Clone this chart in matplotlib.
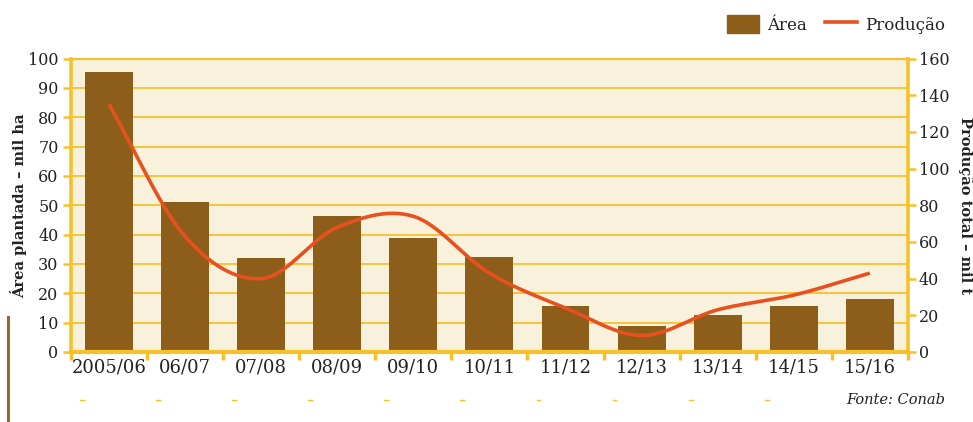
import numpy as np
import matplotlib
matplotlib.use('Agg')
import matplotlib.pyplot as plt
from matplotlib.patches import Rectangle
from matplotlib.lines import Line2D

# data
safras = ['2005/06', '06/07', '07/08', '08/09', '09/10', '10/11',
          '11/12', '12/13', '13/14', '14/15', '15/16']
area = [95.5, 51, 32, 46.5, 39, 32.5, 15.5, 9, 12.5, 15.5, 18]
producao = [135, 63, 40, 68, 74, 43, 24, 9, 23, 31, 43]

BROWN = '#8C5E1A'
YELLOW = '#F6C12B'
BG = '#F8F2DC'
RED = '#E8511F'
TXT = '#222222'

plt.rcParams['font.family'] = ['DejaVu Serif']


def smooth(x, y, n=30):
    # catmull-rom spline through the points (like a "smoothed line")
    x = np.asarray(x, float)
    y = np.asarray(y, float)
    px = np.concatenate([[2 * x[0] - x[1]], x, [2 * x[-1] - x[-2]]])
    py = np.concatenate([[2 * y[0] - y[1]], y, [2 * y[-1] - y[-2]]])
    xs, ys = [], []
    t = np.linspace(0, 1, n)
    for i in range(1, len(px) - 2):
        for p, out in ((px, xs), (py, ys)):
            p0, p1, p2, p3 = p[i - 1], p[i], p[i + 1], p[i + 2]
            out.append(0.5 * ((2 * p1) + (-p0 + p2) * t +
                              (2 * p0 - 5 * p1 + 4 * p2 - p3) * t ** 2 +
                              (-p0 + 3 * p1 - 3 * p2 + p3) * t ** 3))
    return np.concatenate(xs), np.concatenate(ys)


fig = plt.figure(figsize=(9.73, 4.22), dpi=100)
ax = fig.add_axes([0.073, 0.166, 0.860, 0.695])
ax.set_facecolor(BG)
x = np.arange(len(safras))

ax.bar(x, area, width=0.63, color=BROWN, zorder=2)
ax.set_axisbelow(True)
ax.set_xlim(-0.5, len(safras) - 0.5)
ax.set_ylim(0, 100)
ax.set_yticks(np.arange(0, 101, 10))
ax.yaxis.grid(True, color=YELLOW, linewidth=1.3)
ax.set_xticks(x)
ax.set_xticklabels(safras, fontsize=13, color=TXT)
ax.set_xticks(np.arange(-0.5, len(safras), 1), minor=True)
ax.tick_params(axis='x', which='major', length=0, pad=5)
ax.tick_params(axis='x', which='minor', length=6, width=2.5, color=YELLOW)
ax.tick_params(axis='y', length=6, width=1.8, color=YELLOW, labelsize=11.5,
               labelcolor=TXT, pad=3)
ax.spines['top'].set_color(YELLOW)
ax.spines['top'].set_linewidth(1.6)
ax.spines['left'].set_color(YELLOW)
ax.spines['left'].set_linewidth(2.6)
ax.spines['bottom'].set_color(YELLOW)
ax.spines['bottom'].set_linewidth(3)
ax.spines['right'].set_visible(False)
ax.set_ylabel('Área plantada – mil ha', fontsize=10.5, fontweight='bold',
              color=TXT, labelpad=1)

ax2 = ax.twinx()
sx, sy = smooth(x, producao)
ax2.plot(sx, sy, color=RED, linewidth=2.6, zorder=5, solid_capstyle='butt')
ax2.set_ylim(0, 160)
ax2.set_yticks(np.arange(0, 161, 20))
ax2.tick_params(axis='y', length=6, width=1.8, color=YELLOW, labelsize=11.5,
                labelcolor=TXT, pad=2)
for s in ('top', 'left', 'bottom'):
    ax2.spines[s].set_visible(False)
ax2.spines['right'].set_color(YELLOW)
ax2.spines['right'].set_linewidth(2.6)
ax2.set_ylabel('Produção total – mil t', fontsize=10.5, fontweight='bold',
               color=TXT, rotation=270, labelpad=17)

# legend
handles = [Rectangle((0, 0), 1, 1, color=BROWN),
           Line2D([], [], color=RED, linewidth=2.6)]
fig.legend(handles, ['Área', 'Produção'], loc='upper right',
           bbox_to_anchor=(0.987, 1.0), ncol=2, frameon=False,
           fontsize=12, handlelength=1.9, handleheight=1.3,
           columnspacing=1.1, handletextpad=0.5, labelcolor=TXT)

fig.text(0.971, 0.052, 'Fonte: Conab', ha='right', va='center',
         fontsize=10.5, style='italic', color=TXT)

# page decoration below the chart
fig.add_artist(Line2D([0.008, 0.008], [0.0, 0.25], color='#9A6A25',
                      linewidth=2.2))
for b in np.arange(-0.5, len(safras) - 1.5, 1):
    bx = (ax.transData.transform((b, 0))[0] + 11) / fig.bbox.width
    fig.add_artist(Line2D([bx - 0.002, bx + 0.002], [0.052, 0.052],
                          color=YELLOW, linewidth=1))

fig.savefig('out.png', dpi=100)
